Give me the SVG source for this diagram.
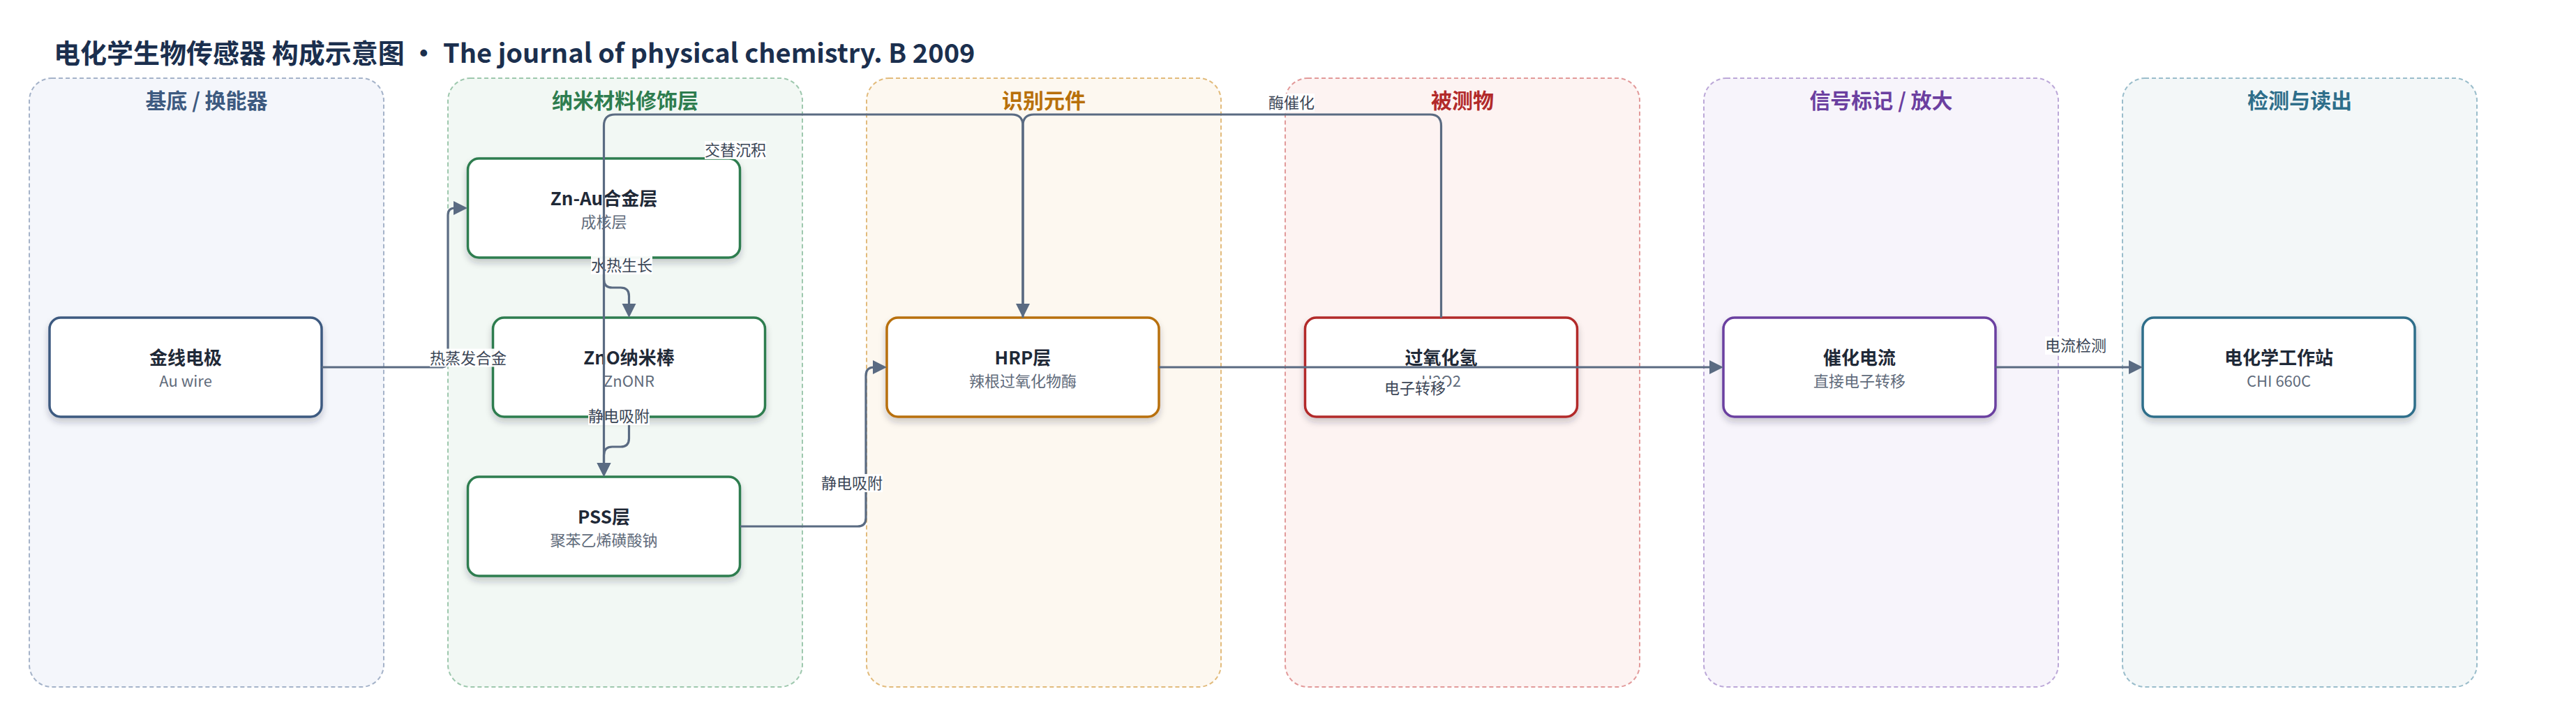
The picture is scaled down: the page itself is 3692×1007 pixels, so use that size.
<svg xmlns="http://www.w3.org/2000/svg" width="3692" height="1007" viewBox="0 0 3692 1007">
<defs>
<style>
text{font-family:"Noto Sans CJK SC","Noto Sans",sans-serif;}
.title{font-size:38px;font-weight:700;fill:#1b2f4e;}
.cl{font-size:30px;font-weight:700;text-anchor:middle;}
.cbox{stroke-width:2;stroke-dasharray:6 4;}
.node rect{fill:#ffffff;stroke-width:3.5;filter:url(#sh);}
.nt{font-size:26px;font-weight:700;fill:#1f2937;text-anchor:middle;}
.ns{font-size:22px;fill:#5f6b7b;text-anchor:middle;}
.edge{fill:none;stroke:#5a6b82;stroke-width:3.2;}
.arr{marker-end:url(#ah);}
.lb{fill:#ffffff;fill-opacity:0.95;}
.lt{font-size:22px;fill:#3b4656;text-anchor:middle;}
</style>
<filter id="sh" x="-10%" y="-20%" width="120%" height="150%">
<feDropShadow dx="0" dy="6" stdDeviation="5" flood-color="#1f2937" flood-opacity="0.22"/>
</filter>
<marker id="ah" viewBox="0 0 20 20" refX="12" refY="10" markerWidth="20" markerHeight="21" markerUnits="userSpaceOnUse" orient="auto">
<path d="M0,0 L20,10 L0,20 Z" fill="#5a6b82"/>
</marker>
</defs>
<rect width="3692" height="1007" fill="#ffffff"/>
<text class="title" x="77" y="90">电化学生物传感器 构成示意图 · The journal of physical chemistry. B 2009</text>

<g id="clusters">
<g id="cluster-substrate">
<rect class="cbox" x="42" y="112" width="508" height="872" rx="32" fill="#f4f6fb" stroke="#a5b3c9"/>
<text class="cl" x="296" y="155" fill="#3d5a80">基底 / 换能器</text>
</g>
<g id="cluster-nano">
<rect class="cbox" x="642" y="112" width="508" height="872" rx="32" fill="#f2f8f4" stroke="#9ec8ae"/>
<text class="cl" x="896" y="155" fill="#2e7d4f">纳米材料修饰层</text>
</g>
<g id="cluster-recog">
<rect class="cbox" x="1242" y="112" width="508" height="872" rx="32" fill="#fdf8f0" stroke="#e2bb7c"/>
<text class="cl" x="1496" y="155" fill="#b8700a">识别元件</text>
</g>
<g id="cluster-analyte">
<rect class="cbox" x="1842" y="112" width="508" height="872" rx="32" fill="#fdf3f2" stroke="#e29a9a"/>
<text class="cl" x="2096" y="155" fill="#b22a2a">被测物</text>
</g>
<g id="cluster-signal">
<rect class="cbox" x="2442" y="112" width="508" height="872" rx="32" fill="#f7f4fb" stroke="#bca8d8"/>
<text class="cl" x="2696" y="155" fill="#6b3fa0">信号标记 / 放大</text>
</g>
<g id="cluster-readout">
<rect class="cbox" x="3042" y="112" width="508" height="872" rx="32" fill="#f3f7f8" stroke="#9abdcb"/>
<text class="cl" x="3296" y="155" fill="#2e6e8a">检测与读出</text>
</g>
</g>

<g id="nodes">
<g id="n-au" class="node">
<rect x="71" y="455" width="390" height="142" rx="16" stroke="#3d5a80"/>
<text class="nt" x="266" y="522">金线电极</text>
<text class="ns" x="266" y="554">Au wire</text>
</g>
<g id="n-znau" class="node">
<rect x="670.5" y="227" width="390" height="142" rx="16" stroke="#2e7d4f"/>
<text class="nt" x="865.5" y="294">Zn-Au合金层</text>
<text class="ns" x="865.5" y="326">成核层</text>
</g>
<g id="n-zno" class="node">
<rect x="706.5" y="455" width="390" height="142" rx="16" stroke="#2e7d4f"/>
<text class="nt" x="901.5" y="522">ZnO纳米棒</text>
<text class="ns" x="901.5" y="554">ZnONR</text>
</g>
<g id="n-pss" class="node">
<rect x="670.5" y="683" width="390" height="142" rx="16" stroke="#2e7d4f"/>
<text class="nt" x="865.5" y="750">PSS层</text>
<text class="ns" x="865.5" y="782">聚苯乙烯磺酸钠</text>
</g>
<g id="n-hrp" class="node">
<rect x="1271" y="455" width="390" height="142" rx="16" stroke="#b8700a"/>
<text class="nt" x="1466" y="522">HRP层</text>
<text class="ns" x="1466" y="554">辣根过氧化物酶</text>
</g>
<g id="n-h2o2" class="node">
<rect x="1870.5" y="455" width="390" height="142" rx="16" stroke="#b22a2a"/>
<text class="nt" x="2065.5" y="522">过氧化氢</text>
<text class="ns" x="2065.5" y="554">H2O2</text>
</g>
<g id="n-cur" class="node">
<rect x="2470" y="455" width="390" height="142" rx="16" stroke="#6b3fa0"/>
<text class="nt" x="2665" y="522">催化电流</text>
<text class="ns" x="2665" y="554">直接电子转移</text>
</g>
<g id="n-ws" class="node">
<rect x="3071" y="455" width="390" height="142" rx="16" stroke="#2e6e8a"/>
<text class="nt" x="3266" y="522">电化学工作站</text>
<text class="ns" x="3266" y="554">CHI 660C</text>
</g>
</g>

<g id="connectors">
<g id="e1">
<path class="edge arr" d="M461,526 H632 Q642,526 642,516 V308 Q642,298 652,298 H662"/>
<rect class="lb" x="616" y="499.5" width="110" height="26"/>
<text class="lt" x="671" y="520.5">热蒸发合金</text>
</g>
<g id="e2">
<path class="edge arr" d="M865.5,369 V400 Q865.5,412 877.5,412 H889.5 Q901.5,412 901.5,424 V447"/>
<rect class="lb" x="847" y="367" width="88" height="26"/>
<text class="lt" x="891" y="388">水热生长</text>
</g>
<g id="e3">
<path class="edge arr" d="M901.5,597 V628 Q901.5,640 889.5,640 H877.5 Q865.5,640 865.5,652 V675"/>
<rect class="lb" x="843" y="583" width="88" height="26"/>
<text class="lt" x="887" y="604">静电吸附</text>
</g>
<g id="e4">
<path class="edge arr" d="M1061,754 H1229 Q1241,754 1241,742 V538 Q1241,526 1253,526 H1263"/>
<rect class="lb" x="1177" y="679" width="88" height="26"/>
<text class="lt" x="1221" y="700">静电吸附</text>
</g>
<g id="e5">
<path class="edge arr" d="M1661,526 H2462"/>
<rect class="lb" x="1982" y="543" width="92" height="26"/>
<text class="lt" x="2028" y="564">电子转移</text>
</g>
<g id="e6">
<path class="edge arr" d="M2860,526 H3063"/>
<rect class="lb" x="2931" y="482" width="88" height="26"/>
<text class="lt" x="2975" y="503">电流检测</text>
</g>
<g id="e7">
<path class="edge arr" d="M2065.5,455 V180 Q2065.5,164 2049.5,164 H1482 Q1466,164 1466,180 V447"/>
<rect class="lb" x="1818" y="134" width="66" height="26"/>
<text class="lt" x="1851" y="155">酶催化</text>
</g>
<g id="e8">
<path class="edge arr" d="M1466,455 V180 Q1466,164 1450,164 H881.5 Q865.5,164 865.5,180 V675"/>
<rect class="lb" x="1010" y="202" width="88" height="26"/>
<text class="lt" x="1054" y="223">交替沉积</text>
</g>
</g>
</svg>
